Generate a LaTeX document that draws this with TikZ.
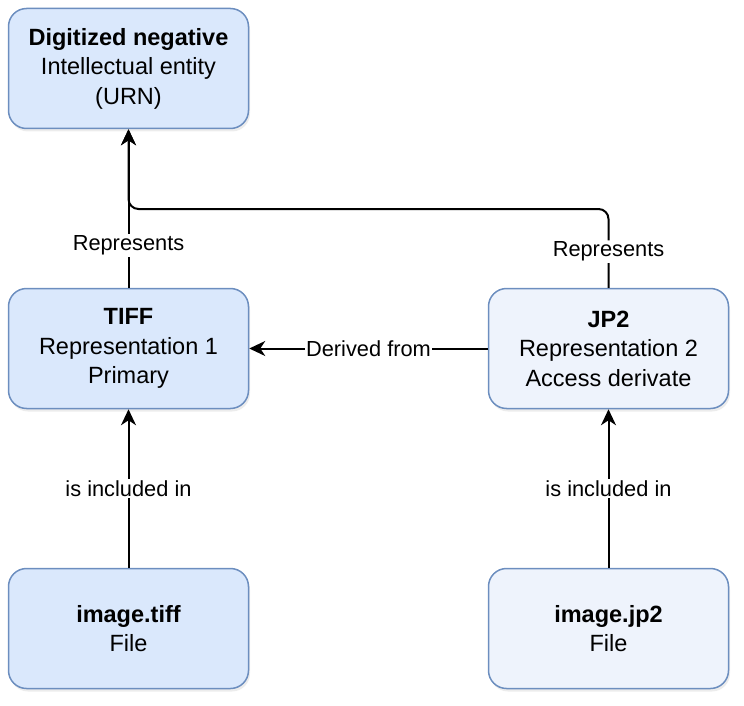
\documentclass[tikz,border=0pt]{standalone}
\usepackage{fontspec}
\setmainfont{Liberation Sans}
\usetikzlibrary{arrows.meta,positioning,shadows}
\definecolor{boxline}{HTML}{6C8EBF}
\definecolor{boxfill}{HTML}{DAE8FC}
\definecolor{boxfilllight}{HTML}{EEF3FC}
\tikzset{entbox/.style={rounded corners=18, draw=boxline, line width=1.5pt, fill=boxfill, minimum width=240, minimum height=120, align=center, font=\fontsize{23.5}{29.5}\selectfont, drop shadow={shadow xshift=1.5pt, shadow yshift=-3pt, opacity=0.15}}}
\tikzset{entboxlight/.style={entbox, fill=boxfilllight}}
\tikzset{arr/.style={draw, -{Stealth[length=16pt, width=15pt, inset=5pt]}, line width=2pt}}
\tikzset{lbl/.style={fill=white, inner sep=1.5pt, font=\fontsize{21.8}{26}\selectfont}}

\begin{document}
\begin{tikzpicture}[x=1pt, y=-1pt]
		\useasboundingbox (0,0) rectangle (744,706);
		\node[entbox] (neg) at (128.5,68.5){\textbf{Digitized negative}\\Intellectual entity\\(URN)};
		\node[entbox] (tiff) at (128.5,348.5){\textbf{TIFF}\\Representation 1\\Primary};
		\node[entboxlight] (jp2) at (608.5,348.5){\textbf{JP2}\\Representation 2\\Access derivate};
		\node[entbox] (tifffile) at (128.5,628.5){\textbf{image.tiff}\\File};
		\node[entboxlight] (jp2file) at (608.5,628.5){\textbf{image.jp2}\\File};
		
		\coordinate (elbow) at (128.5,209);
		
		\draw[arr] (tiff) -- node[lbl, pos=0.266]{Represents} (neg);
		\draw[arr, rounded corners=10] (jp2.north) |- node[lbl, pos=0.23]{Represents} (elbow) -- (neg.south);
		\draw[arr] (jp2) -- node[lbl]{Derived from} (tiff);
		\draw[arr] (tifffile) -- node[lbl]{is included in} (tiff);
		\draw[arr] (jp2file) -- node[lbl]{is included in} (jp2);
	\end{tikzpicture}
\end{document}
